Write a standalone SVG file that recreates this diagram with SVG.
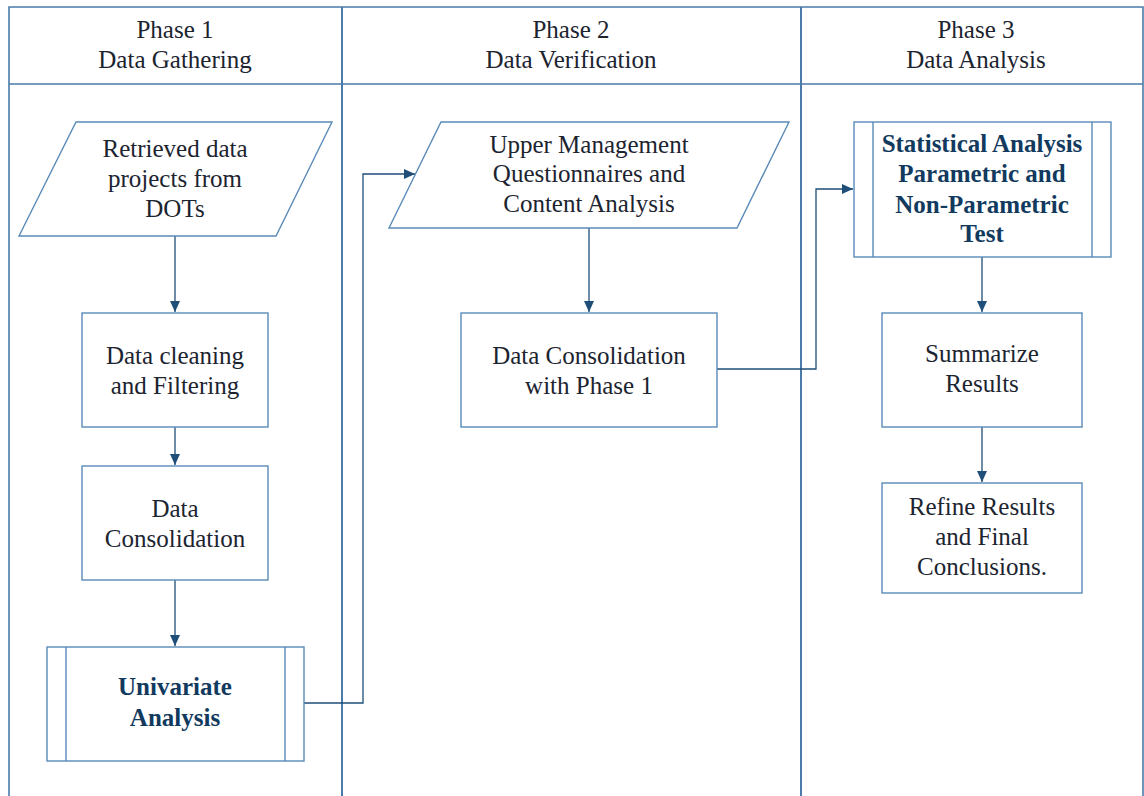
<svg xmlns="http://www.w3.org/2000/svg" width="1144" height="796" viewBox="0 0 1144 796">
<defs>
<marker id="arr" markerWidth="12" markerHeight="12" refX="11" refY="6" orient="auto" markerUnits="userSpaceOnUse">
<path d="M0,1 L11,6 L0,11 Z" fill="#1f4e79"/>
</marker>
<style>
.frame{fill:none;stroke:#4a7bab;stroke-width:1.6}
.shape{fill:#ffffff;stroke:#5b8bb8;stroke-width:1.4}
.conn{fill:none;stroke:#1f4e79;stroke-width:1.3}
text{font-family:"Liberation Serif","Times New Roman",serif;font-size:25px;fill:#1c2430;text-anchor:middle}
.b{font-weight:bold;fill:#123a5e}
</style>
</defs>
<rect width="1144" height="796" fill="#ffffff"/>
<g id="lanes">
<path class="frame" d="M9,796 V7 H1143 V796"/>
<path class="frame" d="M9,84 H1143"/>
<path class="frame" d="M342,7 V796" style="stroke-width:2"/>
<path class="frame" d="M801,7 V796" style="stroke-width:2"/>
<text x="175" y="38">Phase 1</text>
<text x="175" y="68">Data Gathering</text>
<text x="571" y="38">Phase 2</text>
<text x="571" y="68">Data Verification</text>
<text x="976" y="38">Phase 3</text>
<text x="976" y="68">Data Analysis</text>
</g>
<g id="connectors">
<path class="conn" d="M175,236 V312" marker-end="url(#arr)"/>
<path class="conn" d="M175,427 V465" marker-end="url(#arr)"/>
<path class="conn" d="M175,580 V646" marker-end="url(#arr)"/>
<path class="conn" d="M304,703 H363 V174 H415" marker-end="url(#arr)"/>
<path class="conn" d="M589,228 V312" marker-end="url(#arr)"/>
<path class="conn" d="M717,369 H816 V189 H853" marker-end="url(#arr)"/>
<path class="conn" d="M982,257 V312" marker-end="url(#arr)"/>
<path class="conn" d="M982,427 V482" marker-end="url(#arr)"/>
</g>
<g id="retrieved">
<polygon class="shape" points="76,122 332,122 276,236 19,236"/>
<text x="175" y="157">Retrieved data</text>
<text x="175" y="187">projects from</text>
<text x="175" y="217">DOTs</text>
</g>
<g id="cleaning">
<rect class="shape" x="82" y="313" width="186" height="114"/>
<text x="175" y="364">Data cleaning</text>
<text x="175" y="394">and Filtering</text>
</g>
<g id="consolidation">
<rect class="shape" x="82" y="466" width="186" height="114"/>
<text x="175" y="517">Data</text>
<text x="175" y="547">Consolidation</text>
</g>
<g id="univariate">
<rect class="shape" x="47" y="647" width="257" height="114"/>
<path class="shape" d="M66,647 V761 M285,647 V761"/>
<text class="b" x="175" y="695">Univariate</text>
<text class="b" x="175" y="726">Analysis</text>
</g>
<g id="questionnaires">
<polygon class="shape" points="441,122 789,122 737,228 389,228"/>
<text x="589" y="153">Upper Management</text>
<text x="589" y="182">Questionnaires and</text>
<text x="589" y="212">Content Analysis</text>
</g>
<g id="consolidation2">
<rect class="shape" x="461" y="313" width="256" height="114"/>
<text x="589" y="364">Data Consolidation</text>
<text x="589" y="394">with Phase 1</text>
</g>
<g id="statistical">
<rect class="shape" x="854" y="122" width="257" height="135"/>
<path class="shape" d="M873,122 V257 M1092,122 V257"/>
<text class="b" x="982" y="152">Statistical Analysis</text>
<text class="b" x="982" y="182">Parametric and</text>
<text class="b" x="982" y="213">Non-Parametric</text>
<text class="b" x="982" y="242">Test</text>
</g>
<g id="summarize">
<rect class="shape" x="882" y="313" width="200" height="114"/>
<text x="982" y="362">Summarize</text>
<text x="982" y="392">Results</text>
</g>
<g id="refine">
<rect class="shape" x="882" y="483" width="200" height="110"/>
<text x="982" y="515">Refine Results</text>
<text x="982" y="545">and Final</text>
<text x="982" y="575">Conclusions.</text>
</g>
</svg>
